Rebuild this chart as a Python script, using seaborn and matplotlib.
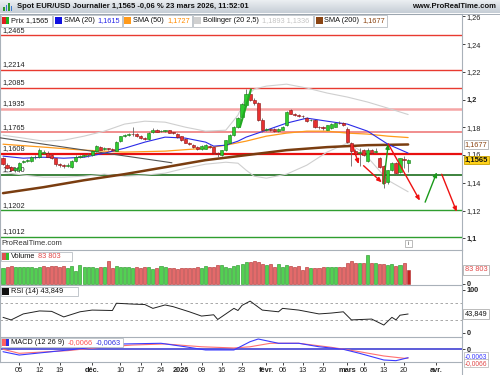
import numpy as np
import pandas as pd
import matplotlib
matplotlib.use("Agg")
import matplotlib.pyplot as plt
from matplotlib.patches import Rectangle
from matplotlib.transforms import ScaledTranslation
import seaborn as sns

sns.set_style("white")
plt.rcParams["font.family"] = ["Liberation Sans", "DejaVu Sans"]
plt.rcParams["font.size"] = 5.3

# ---------------- data ----------------
holidays = ["2025-12-25", "2026-01-01"]
days = pd.bdate_range("2025-10-30", "2026-04-20", freq="C", holidays=holidays)

opens = [1.1576, 1.1530, 1.1515, 1.1495, 1.1492, 1.1548, 1.1560, 1.1555, 1.1585, 1.1588,
         1.1615, 1.1617, 1.1600, 1.1576, 1.1535, 1.1528, 1.1522, 1.1515, 1.1556, 1.1590,
         1.1595, 1.1598, 1.1600, 1.1630, 1.1660, 1.1642, 1.1650, 1.1645, 1.1630, 1.1700,
         1.1740, 1.1745, 1.1752, 1.1750, 1.1738, 1.1722, 1.1715, 1.1770, 1.1785, 1.1772,
         1.1775, 1.1778, 1.1763, 1.1755, 1.1735, 1.1720, 1.1688, 1.1675, 1.1660, 1.1645,
         1.1648, 1.1668, 1.1658, 1.1612, 1.1600, 1.1636, 1.1690, 1.1744, 1.1804, 1.1877,
         1.1960, 1.2040, 1.1998, 1.1975, 1.1855, 1.1782, 1.1788, 1.1790, 1.1775, 1.1785,
         1.1815, 1.1925, 1.1895, 1.1888, 1.1885, 1.1870, 1.1850, 1.1853, 1.1802, 1.1800,
         1.1785, 1.1795, 1.1805, 1.1835, 1.1830, 1.1790, 1.1690, 1.1630, 1.1615, 1.1635,
         1.1555, 1.1636, 1.1620, 1.1580, 1.1521, 1.1404, 1.1492, 1.1540, 1.1480, 1.1572,
         1.1545]
highs = [1.1585, 1.1540, 1.1522, 1.1512, 1.1550, 1.1568, 1.1575, 1.1595, 1.1600, 1.1655,
         1.1635, 1.1630, 1.1605, 1.1580, 1.1545, 1.1538, 1.1540, 1.1562, 1.1598, 1.1600,
         1.1608, 1.1612, 1.1635, 1.1672, 1.1668, 1.1660, 1.1655, 1.1652, 1.1702, 1.1740,
         1.1752, 1.1758, 1.1800, 1.1760, 1.1745, 1.1730, 1.1770, 1.1795, 1.1792, 1.1785,
         1.1785, 1.1785, 1.1770, 1.1762, 1.1740, 1.1725, 1.1695, 1.1682, 1.1665, 1.1672,
         1.1678, 1.1675, 1.1662, 1.1620, 1.1640, 1.1712, 1.1750, 1.1810, 1.1872, 1.1975,
         1.2077, 1.2060, 1.2010, 1.1985, 1.1865, 1.1795, 1.1798, 1.1795, 1.1798, 1.1810,
         1.1920, 1.1935, 1.1902, 1.1895, 1.1892, 1.1878, 1.1862, 1.1860, 1.1810, 1.1808,
         1.1820, 1.1830, 1.1840, 1.1845, 1.1838, 1.1800, 1.1698, 1.1645, 1.1650, 1.1648,
         1.1650, 1.1648, 1.1652, 1.1588, 1.1530, 1.1495, 1.1548, 1.1548, 1.1582, 1.1592,
         1.1572]
lows = [1.1528, 1.1500, 1.1485, 1.1480, 1.1480, 1.1540, 1.1548, 1.1550, 1.1575, 1.1580,
        1.1605, 1.1585, 1.1570, 1.1525, 1.1515, 1.1510, 1.1515, 1.1508, 1.1550, 1.1580,
        1.1588, 1.1590, 1.1595, 1.1625, 1.1635, 1.1638, 1.1635, 1.1630, 1.1628, 1.1695,
        1.1732, 1.1738, 1.1740, 1.1728, 1.1715, 1.1708, 1.1710, 1.1762, 1.1765, 1.1765,
        1.1768, 1.1758, 1.1752, 1.1725, 1.1705, 1.1685, 1.1672, 1.1655, 1.1640, 1.1640,
        1.1642, 1.1652, 1.1605, 1.1588, 1.1595, 1.1630, 1.1685, 1.1738, 1.1798, 1.1870,
        1.1955, 1.1990, 1.1965, 1.1845, 1.1770, 1.1772, 1.1772, 1.1765, 1.1768, 1.1778,
        1.1810, 1.1895, 1.1880, 1.1875, 1.1870, 1.1838, 1.1845, 1.1798, 1.1792, 1.1785,
        1.1780, 1.1790, 1.1800, 1.1822, 1.1810, 1.1685, 1.1525, 1.1598, 1.1520, 1.1592,
        1.1548, 1.1608, 1.1612, 1.1510, 1.1365, 1.1395, 1.1485, 1.1455, 1.1470, 1.1505,
        1.1480]
closes = [1.1533, 1.1510, 1.1492, 1.1505, 1.1544, 1.1560, 1.1568, 1.1588, 1.1590, 1.1636,
          1.1625, 1.1590, 1.1578, 1.1535, 1.1528, 1.1520, 1.1530, 1.1556, 1.1590, 1.1592,
          1.1600, 1.1602, 1.1630, 1.1667, 1.1640, 1.1650, 1.1645, 1.1640, 1.1697, 1.1735,
          1.1744, 1.1750, 1.1750, 1.1735, 1.1722, 1.1715, 1.1762, 1.1785, 1.1770, 1.1775,
          1.1777, 1.1763, 1.1760, 1.1730, 1.1710, 1.1690, 1.1680, 1.1660, 1.1645, 1.1665,
          1.1670, 1.1658, 1.1612, 1.1605, 1.1635, 1.1708, 1.1744, 1.1804, 1.1867, 1.1966,
          1.2040, 1.1998, 1.1975, 1.1855, 1.1780, 1.1788, 1.1780, 1.1772, 1.1790, 1.1800,
          1.1913, 1.1900, 1.1890, 1.1885, 1.1880, 1.1845, 1.1855, 1.1805, 1.1800, 1.1795,
          1.1815, 1.1825, 1.1835, 1.1830, 1.1815, 1.1695, 1.1630, 1.1605, 1.1625, 1.1600,
          1.1636, 1.1615, 1.1628, 1.1516, 1.1396, 1.1490, 1.1540, 1.1468, 1.1576, 1.1568,
          1.1565]
volumes = [98, 102, 106, 104, 104, 104, 100, 104, 98, 104,
           110, 104, 110, 110, 104, 106, 98, 110, 76, 116,
           104, 100, 100, 98, 100, 104, 136, 98, 106, 104,
           102, 100, 98, 104, 98, 100, 104, 92, 98, 106,
           102, 98, 94, 92, 98, 94, 98, 96, 104, 94,
           108, 102, 104, 112, 112, 100, 96, 106, 112, 120,
           134, 130, 138, 134, 118, 112, 118, 100, 118, 104,
           112, 110, 104, 108, 86, 100, 94, 96, 98, 104,
           100, 102, 102, 100, 102, 128, 136, 128, 128, 124,
           176, 128, 124, 118, 118, 116, 118, 108, 116, 128,
           83.803]

sma20_idx = [0, 5, 10, 15, 20, 25, 30, 35, 40, 45, 50, 52, 55, 58, 60, 65, 70, 75, 80, 85, 90, 95, 100]
sma20 = [1.1593, 1.1578, 1.1585, 1.1578, 1.1585, 1.1614, 1.1650, 1.1694, 1.1730, 1.1723, 1.1694, 1.1665,
         1.1672, 1.1701, 1.1730, 1.1780, 1.1831, 1.1867, 1.1845, 1.1824, 1.1773, 1.1679, 1.1615]
sma50_idx = [0, 10, 20, 30, 40, 50, 55, 60, 65, 70, 75, 80, 85, 90, 95, 100]
sma50 = [1.1679, 1.1658, 1.1636, 1.1622, 1.1629, 1.1650, 1.1672, 1.1701, 1.1737, 1.1759, 1.1773, 1.1773,
         1.1759, 1.1752, 1.1737, 1.1727]
sma200_idx = [0, 10, 20, 30, 40, 50, 60, 70, 80, 90, 100]
sma200 = [1.1326, 1.1369, 1.1419, 1.1463, 1.1513, 1.1564, 1.1600, 1.1636, 1.1658, 1.1672, 1.1677]
bb_up_idx = [0, 5, 10, 15, 20, 25, 30, 35, 40, 45, 50, 55, 58, 60, 62, 65, 70, 75, 80, 85, 90, 95, 100]
bb_up = [1.1744, 1.1723, 1.1701, 1.1708, 1.1737, 1.1773, 1.1824, 1.1845, 1.1838, 1.1802, 1.1773, 1.1780,
         1.1889, 1.2019, 1.2076, 1.2098, 1.2112, 1.2084, 1.2048, 1.2019, 1.1983, 1.1939, 1.1893]
bb_low_idx = [0, 5, 10, 15, 20, 25, 30, 35, 40, 45, 50, 55, 58, 60, 62, 65, 70, 75, 80, 85, 88, 90, 95, 100]
bb_low = [1.1477, 1.1456, 1.1441, 1.1441, 1.1448, 1.1463, 1.1448, 1.1456, 1.1470, 1.1506, 1.1535, 1.1549,
          1.1542, 1.1492, 1.1448, 1.1434, 1.1463, 1.1528, 1.1622, 1.1687, 1.1636, 1.1585, 1.1419, 1.1336]

rsi_idx = [0, 2, 5, 9, 12, 15, 19, 22, 27, 28, 32, 35, 37, 40, 42, 46, 49, 52, 53, 57, 58, 59, 61,
           64, 68, 69, 73, 78, 81, 84, 86, 91, 94, 96, 97, 98, 100]
rsi = [36, 30, 44, 51, 50, 37, 49, 53, 52, 69, 67, 66, 57, 65, 61, 49, 39, 42, 31, 57, 52, 64, 74,
       53, 49, 57, 53, 44, 46, 49, 30, 32, 18, 36, 30, 41, 43.849]
macd_idx = [0, 4, 12, 20, 30, 39, 45, 50, 57, 61, 63, 68, 73, 78, 84, 88, 94, 97, 100]
macd = [-0.0018, -0.0043, -0.0018, 0.0007, 0.0040, 0.0045, 0.0019, -0.0005, -0.0005, 0.0057, 0.0077,
        0.0045, 0.0045, 0.0019, 0.0, -0.0030, -0.0080, -0.0085, -0.0063]
signal_idx = [0, 4, 16, 24, 32, 40, 49, 57, 61, 66, 73, 81, 88, 94, 99, 100]
signal = [0.0, -0.0030, -0.0010, 0.0015, 0.0032, 0.0040, 0.0019, 0.0010, 0.0019, 0.0045, 0.0045,
          0.0015, -0.0018, -0.0050, -0.0067, -0.0066]

levels = [1.2465, 1.2214, 1.2085, 1.1935, 1.1765, 1.1608, 1.1460, 1.1202, 1.1012]
level_labels = ["1,2465", "1,2214", "1,2085", "1,1935", "1,1765", "1,1608", "1,1460", "1,1202", "1,1012"]
level_colors = ["#e83a30", "#e83a30", "#e83a30", "#f5a5a5", "#f08585", "#e81010", "#1d6e1d", "#2f9e2f", "#2f9e2f"]
level_widths = [1.0, 1.0, 1.0, 1.8, 1.3, 1.6, 1.2, 1.0, 1.0]

# drawn arrows: (x0, y0, x1, y1, colour)
arrows = [(86.4, 1.1661, 87.8, 1.1536, "#ee1111"),
          (89.0, 1.1524, 93.5, 1.1404, "#ee1111"),
          (93.9, 1.1392, 95.1, 1.1681, "#1a9a1a"),
          (95.1, 1.1681, 102.9, 1.1272, "#ee1111"),
          (104.2, 1.1261, 107.1, 1.1477, "#1a9a1a"),
          (108.3, 1.1462, 112.0, 1.1192, "#ee1111")]

tick_dates = ["2025-11-05", "2025-11-12", "2025-11-19", "2025-12-01", "2025-12-10", "2025-12-17",
              "2025-12-24", "2026-01-02", "2026-01-09", "2026-01-16", "2026-01-23", "2026-02-02",
              "2026-02-06", "2026-02-13", "2026-02-20", "2026-03-02", "2026-03-06", "2026-03-13",
              "2026-03-20", "2026-04-01"]
tick_labels = ["05", "12", "19", "déc.", "10", "17", "24", "2026", "09", "16", "23", "févr.",
               "06", "13", "20", "mars", "06", "13", "20", "avr."]
bold_labels = ["déc.", "2026", "févr.", "mars", "avr."]

# ---------------- figure ----------------
W, H = 500, 375
fig = plt.figure(figsize=(5, 3.75), dpi=100)
renderer = fig.canvas.get_renderer()


def fx(x):
    return x / W


def fy(y):
    return 1 - y / H


GRID = "#a9b1b9"
XMIN, XMAX = -0.74, 113.3

ax_p = fig.add_axes([0, fy(250), fx(462), (250 - 14) / H])
ax_v = fig.add_axes([0, fy(285), fx(462), 35 / H])
ax_r = fig.add_axes([0, fy(337), fx(462), 52 / H])
ax_m = fig.add_axes([0, fy(362), fx(462), 25 / H])

for ax in (ax_p, ax_v, ax_r, ax_m):
    ax.set_xlim(XMIN, XMAX)
    ax.set_facecolor("white")
    ax.yaxis.tick_right()
    ax.tick_params(axis="y", direction="out", length=2, width=0.6, pad=1.5,
                   colors="#222222", labelsize=5.3)
    ax.tick_params(axis="x", bottom=False, labelbottom=False)
    for s in ax.spines.values():
        s.set_color(GRID)
        s.set_linewidth(0.8)
    ax.spines["bottom"].set_visible(False)
ax_m.spines["bottom"].set_visible(True)

x = np.arange(len(closes))
o = np.array(opens)
c = np.array(closes)
up = c >= o

# price panel
ax_p.set_ylim(1.0916, 1.2618)
for lev, col, lw, lab in zip(levels, level_colors, level_widths, level_labels):
    ax_p.axhline(lev, color=col, lw=lw, zorder=1)
    ax_p.annotate(lab, xy=(0, lev), xycoords=("axes fraction", "data"), xytext=(1.5, 1.2),
                  textcoords="offset points", va="bottom", ha="left", fontsize=5.3, color="#222222",
                  zorder=2)

sns.lineplot(x=bb_up_idx, y=bb_up, ax=ax_p, color="#cfcfcf", lw=0.8, zorder=2)
sns.lineplot(x=bb_low_idx, y=bb_low, ax=ax_p, color="#cfcfcf", lw=0.8, zorder=2)
sns.lineplot(x=sma200_idx, y=sma200, ax=ax_p, color="#7a3d10", lw=1.8, zorder=3)
sns.lineplot(x=sma50_idx, y=sma50, ax=ax_p, color="#ff9a1a", lw=0.9, zorder=3)
sns.lineplot(x=sma20_idx, y=sma20, ax=ax_p, color="#2a2ae8", lw=0.8, zorder=3)
sns.lineplot(x=[XMIN, 41.7], y=[1.1725, 1.1545], ax=ax_p, color="#555555", lw=0.8, zorder=3)
sns.lineplot(x=[58.5, 61.2], y=[1.1804, 1.2074], ax=ax_p, color="#22aa22", lw=1.5, zorder=6)

ax_p.vlines(x, lows, highs, color="#666666", lw=0.6, zorder=4)
body = np.maximum(np.abs(c - o), 0.0004)
ax_p.bar(x, body, bottom=np.minimum(o, c), width=0.78,
         color=np.where(up, "#2ecc2e", "#e83030"),
         edgecolor=np.where(up, "#157a15", "#8a1010"), linewidth=0.4, zorder=5)

for x0, y0, x1, y1, col in arrows:
    ax_p.annotate("", xy=(x1, y1), xytext=(x0, y0),
                  arrowprops=dict(arrowstyle="-|>,head_length=0.5,head_width=0.22", color=col,
                                  lw=1.0, shrinkA=0, shrinkB=0), zorder=7)

ax_p.set_yticks([1.10, 1.12, 1.14, 1.16, 1.18, 1.20, 1.22, 1.24, 1.26])
ax_p.set_yticklabels(["1,1", "1,12", "1,14", "1,16", "1,18", "1,2", "1,22", "1,24", "1,26"])
for t in ax_p.get_yticklabels():
    if t.get_text() in ("1,1", "1,2"):
        t.set_fontweight("bold")
# the 1,16 label sits squeezed between the two value boxes
lab116 = ax_p.yaxis.get_major_ticks()[3].label2
lab116.set_transform(lab116.get_transform() + ScaledTranslation(0, 0.02, fig.dpi_scale_trans))

ax_p.text(1.006, 1.1677, "1,1677", transform=ax_p.get_yaxis_transform(), va="center", ha="left",
          color="#8b4513", fontsize=5.3, clip_on=False, zorder=10,
          bbox=dict(boxstyle="square,pad=0.1", fc="white", ec="#b0b0b0", lw=0.6))
ax_p.text(1.006, 1.1565, "1,1565", transform=ax_p.get_yaxis_transform(), va="center", ha="left",
          color="#111111", fontsize=5.5, fontweight="bold", clip_on=False, zorder=10,
          bbox=dict(boxstyle="square,pad=0.1", fc="#ffd21a", ec="#c8a000", lw=0.6))
ax_p.text(0.004, 0.012, "ProRealTime.com", transform=ax_p.transAxes, va="bottom", ha="left",
          fontsize=5.5, color="#333333")

# volume panel (bar colour follows the change from the previous close)
ax_v.set_ylim(-6000, 203500)
prev = np.concatenate([[c[0]], c[:-1]])
vup = c >= prev
vol_col = np.where(vup, "#52d152", "#e46a6a")
vol_col[-1] = "#c42020"
ax_v.bar(x, np.array(volumes) * 1000, width=0.75, color=vol_col,
         edgecolor=np.where(vup, "#1f8f1f", "#b02828"), linewidth=0.4)
ax_v.set_yticks([0])
ax_v.set_yticklabels(["0"], fontweight="bold")
ax_v.text(1.006, 83803, "83 803", transform=ax_v.get_yaxis_transform(), va="center", ha="left",
          color="#e04848", fontsize=5.3, clip_on=False,
          bbox=dict(boxstyle="square,pad=0.2", fc="white", ec="#b0b0b0", lw=0.6))

# RSI panel
ax_r.set_ylim(-10, 111.7)
for lv in (70, 30):
    ax_r.axhline(lv, color="#9a9a9a", lw=0.6, ls=(0, (3, 3)))
sns.lineplot(x=rsi_idx, y=rsi, ax=ax_r, color="#222222", lw=0.7)
ax_r.set_yticks([0, 100])
ax_r.set_yticklabels(["0", "100"], fontweight="bold")
ax_r.text(1.006, 43.849, "43,849", transform=ax_r.get_yaxis_transform(), va="center", ha="left",
          color="#111111", fontsize=5.3, clip_on=False,
          bbox=dict(boxstyle="square,pad=0.2", fc="white", ec="#b0b0b0", lw=0.6))

# MACD panel
ax_m.set_ylim(-0.0095, 0.0092)
ax_m.axhline(0, color="#3030d0", lw=1.1)
sns.lineplot(x=signal_idx, y=signal, ax=ax_m, color="#ff7070", lw=0.8)
sns.lineplot(x=macd_idx, y=macd, ax=ax_m, color="#3a3aff", lw=0.8)
ax_m.set_yticks([0])
ax_m.set_yticklabels(["0"], fontweight="bold")
ax_m.text(1.006, -0.0052, "-0,0063", transform=ax_m.get_yaxis_transform(), va="center", ha="left",
          color="#3a3aff", fontsize=4.8, clip_on=False,
          bbox=dict(boxstyle="square,pad=0.1", fc="white", ec="#b0b0b0", lw=0.5))
ax_m.text(1.006, -0.0104, "-0,0066", transform=ax_m.get_yaxis_transform(), va="center", ha="left",
          color="#e04848", fontsize=4.8, clip_on=False,
          bbox=dict(boxstyle="square,pad=0.1", fc="white", ec="#b0b0b0", lw=0.5))

tick_pos = [days.get_loc(pd.Timestamp(d)) for d in tick_dates]
ax_m.set_xticks(tick_pos)
ax_m.set_xticklabels(tick_labels)
ax_m.tick_params(axis="x", bottom=True, labelbottom=True, length=2, width=0.6, pad=1.5,
                 colors="#222222", labelsize=5.3)
for t in ax_m.get_xticklabels():
    if t.get_text() in bold_labels:
        t.set_fontweight("bold")
fig.add_artist(plt.Line2D([fx(462), fx(462)], [fy(362), 0], transform=fig.transFigure,
                          color=GRID, lw=0.8))

# ---------------- header / legends ----------------
hdr = fig.add_axes([0, fy(13.5), 1, 13.5 / H])
hdr.imshow(np.linspace(0, 1, 20).reshape(-1, 1), aspect="auto",
           cmap=matplotlib.colors.LinearSegmentedColormap.from_list("h", ["#eef1f4", "#c6ced6"]),
           extent=(0, 1, 0, 1))
hdr.set_axis_off()
fig.add_artist(plt.Line2D([0, 1], [fy(13.5), fy(13.5)], transform=fig.transFigure, color="#9aa4ae", lw=0.6))
for bx, bh, bc in [(3, 4, "#2a9a2a"), (5.5, 6, "#3a7ad0"), (8, 8, "#2a9a2a"), (10.5, 5, "#3a7ad0")]:
    fig.add_artist(Rectangle((fx(bx), fy(11)), fx(1.6), bh / H, transform=fig.transFigure, fc=bc, ec="none"))
narrow = ["Liberation Sans Narrow", "Liberation Sans", "DejaVu Sans"]
fig.text(fx(17), fy(7), "Spot EUR/USD Journalier 1,1565 -0,06 % 23 mars 2026, 11:52:01",
         fontsize=5.5, fontweight="bold", color="#111111", va="center", ha="left", family=narrow)
fig.text(fx(496), fy(7), "www.ProRealTime.com", fontsize=5.5, fontweight="bold", color="#111111",
         va="center", ha="right", family=narrow)


def box(x0, y0, x1, y1):
    fig.add_artist(Rectangle((fx(x0), fy(y1)), fx(x1 - x0), (y1 - y0) / H, transform=fig.transFigure,
                             fc="white", ec="#b8bec4", lw=0.6, zorder=20))


def square(x0, yc, cols):
    n = len(cols)
    for k, col in enumerate(cols):
        fig.add_artist(Rectangle((fx(x0 + k * 7 / n), fy(yc + 3.5)), fx(7 / n), 7 / H,
                                 transform=fig.transFigure, fc=col, ec="none", zorder=21))


def legend_item(x0, y0, y1, cols, parts, min_right=0):
    # draws a bordered legend entry: colour square then text pieces side by side
    yc = (y0 + y1) / 2
    square(x0 + 1.5, yc, cols)
    xp = x0 + 10.5
    for s, col in parts:
        t = fig.text(fx(xp), fy(yc), s, fontsize=5.3, color=col, va="center", ha="left", zorder=22)
        xp += t.get_window_extent(renderer).width + 3
    right = max(xp - 1, min_right)
    box(x0, y0, right, y1)
    return right


r = legend_item(0.5, 14.5, 27, ["#e02020", "#20b020"], [("Prix 1,1565", "#111111")], 52)
r = legend_item(r + 1, 14.5, 27, ["#1010e0"], [("SMA (20)", "#111111"), ("1,1615", "#2a2ae8")], 119)
r = legend_item(r + 1, 14.5, 27, ["#ff9a1a"], [("SMA (50)", "#111111"), ("1,1727", "#ff8c00")], 187)
r = legend_item(r + 1, 14.5, 27, ["#d0d0d0"], [("Bollinger (20 2,5)", "#111111"),
                                              ("1,1893 1,1336", "#c4c4c4")], 313)
r = legend_item(r + 1, 14.5, 27, ["#8b4513"], [("SMA (200)", "#111111"), ("1,1677", "#8b4513")], 386)

legend_item(0.5, 251.5, 261, ["#e05050", "#30c030"], [("Volume", "#111111"), ("83 803", "#e04848")], 72)
legend_item(0.5, 286.5, 296, ["#111111"], [("RSI (14) 43,849", "#111111")], 78)
legend_item(0.5, 338, 347, ["#ff6060", "#3030e0"], [("MACD (12 26 9)", "#111111"),
                                                    ("-0,0066", "#ff5050"), ("-0,0063", "#3030e0")], 122)

fig.add_artist(Rectangle((fx(405), fy(247)), fx(7), 7 / H, transform=fig.transFigure,
                         fc="white", ec="#a0a0a0", lw=0.5, zorder=20))
fig.text(fx(408.5), fy(243.5), "i", fontsize=4.5, ha="center", va="center", color="#555555", zorder=21)

fig.savefig("out.png", dpi=100)
